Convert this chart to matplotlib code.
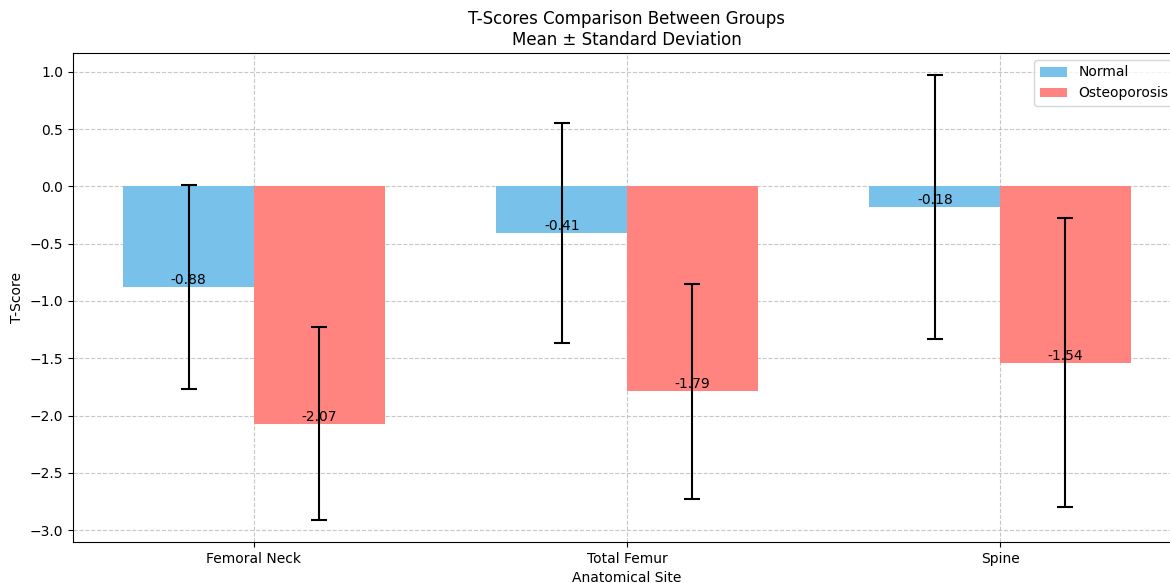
"""
T-score comparison between Normal and Osteoporosis groups (mean +/- SD).
"""

import matplotlib

matplotlib.use("Agg")
import matplotlib.pyplot as plt
import numpy as np

SITES = ["Femoral Neck", "Total Femur", "Spine"]
NORMAL_MEAN = [-0.88, -0.41, -0.18]
NORMAL_SD = [0.89, 0.96, 1.15]
OSTEO_MEAN = [-2.07, -1.79, -1.54]
OSTEO_SD = [0.84, 0.94, 1.26]


def main() -> None:
    fig = plt.figure(figsize=(11.7, 5.83), dpi=100)
    # axes run past the right edge, like the cropped original
    ax = fig.add_axes([73 / 1170, 41 / 583, 1108 / 1170, 489 / 583])

    x = np.arange(len(SITES))
    width = 0.35
    err = {"elinewidth": 1.5, "capthick": 1.5, "ecolor": "black"}
    bars_n = ax.bar(x - width / 2, NORMAL_MEAN, width, yerr=NORMAL_SD, capsize=6,
                    color="#77C1EA", label="Normal", error_kw=err)
    bars_o = ax.bar(x + width / 2, OSTEO_MEAN, width, yerr=OSTEO_SD, capsize=6,
                    color="#FF837F", label="Osteoporosis", error_kw=err)

    for bars, vals in ((bars_n, NORMAL_MEAN), (bars_o, OSTEO_MEAN)):
        for bar, val in zip(bars, vals):
            ax.text(bar.get_x() + bar.get_width() / 2, val, f"{val:.2f}",
                    ha="center", va="bottom", fontsize=10)

    ax.set_xticks(x)
    ax.set_xticklabels(SITES)
    ax.set_xlabel("Anatomical Site")
    ax.set_ylabel("T-Score")
    ax.set_title("T-Scores Comparison Between Groups\nMean ± Standard Deviation")
    ax.grid(True, linestyle="--", alpha=0.7)
    ax.set_axisbelow(True)
    ax.legend(loc="upper right")
    ax.spines["right"].set_visible(False)

    fig.savefig("out.png", dpi=100)
    plt.close(fig)


if __name__ == "__main__":
    main()
